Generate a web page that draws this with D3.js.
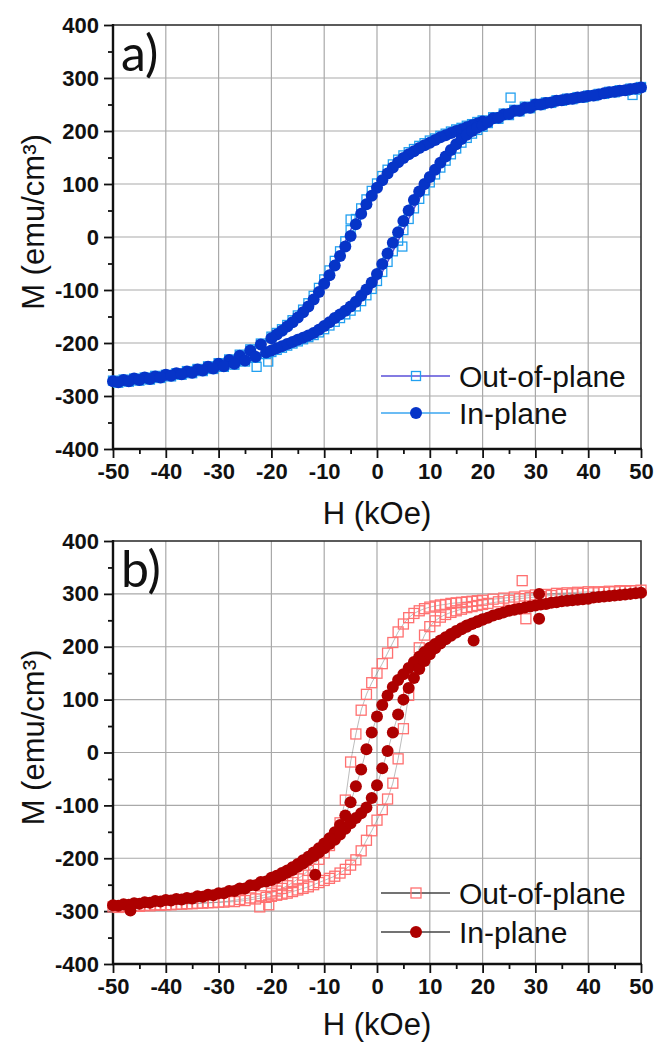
<!DOCTYPE html>
<html>
<head>
<meta charset="utf-8">
<script src="https://cdnjs.cloudflare.com/ajax/libs/d3/7.8.5/d3.min.js"></script>
<style>
body { margin: 0; background: #fff; }
svg text { font-family: "Liberation Sans", Arial, sans-serif; }
</style>
</head>
<body>
<svg id="chart" width="655" height="1042"></svg>
<script>
// field values of the two sweeps (kOe)
var sweepDownH = [50, 48, 46, 44, 42, 40, 38, 36, 34, 32, 30, 28, 26, 24, 22,
  20, 19, 18, 17, 16, 15, 14, 13, 12, 11, 10, 9, 8, 7, 6, 5, 4, 3, 2, 1, 0,
  -1, -2, -3, -4, -5, -6, -7, -8, -9, -10, -11, -12, -13, -14, -15, -16, -17, -18, -19, -20,
  -22, -24, -26, -28, -30, -32, -34, -36, -38, -40, -42, -44, -46, -48, -50];
var sweepUpH = [-49, -47, -45, -43, -41, -39, -37, -35, -33, -31, -29, -27, -25, -23, -21,
  -20, -19, -18, -17, -16, -15, -14, -13, -12, -11, -10, -9, -8, -7, -6, -5, -4, -3, -2, -1,
  0, 1, 2, 3, 4, 5, 6, 7, 8, 9, 10, 11, 12, 13, 14, 15, 16, 17, 18, 19, 20,
  21, 23, 25, 27, 29, 31, 33, 35, 37, 39, 41, 43, 45, 47, 49];

// panel a) magnetisation (emu/cm3)
var aOutDown = [283, 280, 277, 274, 270, 267, 264, 261, 258, 254, 251, 246, 240, 233, 226,
  220, 217, 213, 210, 206, 203, 199, 195, 191, 186, 182, 177, 172, 166, 160, 154, 146, 137, 127, 115, 101,
  87, 71, 54, 34, 13, -8, -27, -45, -63, -80, -96, -111, -125, -137, -148, -157, -166, -174, -181, -188,
  -201, -212, -222, -231, -238, -244, -249, -253, -257, -260, -262, -265, -267, -269, -271];
var aOutUp = [-275, -273, -271, -269, -266, -263, -260, -257, -253, -249, -245, -241, -235, -228, -221,
  -217, -213, -209, -205, -201, -197, -193, -189, -185, -180, -174, -167, -160, -153, -146, -139, -131, -121, -110, -98,
  -83, -66, -47, -27, -7, 13, 34, 54, 72, 88, 103, 118, 131, 144, 156, 167, 178, 187, 195, 202, 208,
  215, 223, 230, 237, 243, 249, 253, 257, 260, 263, 266, 270, 273, 276, 278];
var aOutExtraH = [25.3, -5.0, 4.8, -22.8, -20.6, 48.4];
var aOutExtraM = [263, 33, -18, -245, -235, 268];
var aInDown = [282, 279, 276, 273, 269, 266, 263, 260, 257, 253, 250, 244, 238, 231, 224,
  218, 214, 211, 207, 203, 200, 196, 192, 188, 183, 178, 173, 168, 162, 156, 149, 141, 131, 120, 107, 93,
  78, 62, 44, 24, 2, -18, -36, -54, -72, -88, -104, -118, -131, -142, -152, -161, -169, -177, -184, -191,
  -203, -214, -224, -232, -239, -245, -250, -254, -257, -260, -263, -265, -267, -270, -272];
var aInUp = [-274, -272, -270, -268, -265, -262, -259, -256, -252, -248, -244, -239, -233, -226, -218,
  -214, -210, -206, -202, -198, -194, -190, -186, -181, -175, -168, -161, -153, -146, -139, -131, -122, -111, -99, -86,
  -70, -51, -31, -11, 9, 30, 50, 70, 86, 100, 113, 127, 140, 152, 164, 175, 185, 193, 200, 206, 211,
  217, 225, 232, 238, 244, 250, 254, 258, 261, 264, 267, 271, 274, 277, 280];

// panel b)
var bOutDown = [307, 306, 306, 305, 304, 304, 303, 302, 301, 299, 298, 296, 294, 292, 290,
  288, 287, 286, 285, 284, 283, 282, 280, 279, 277, 275, 272, 268, 263, 255, 243, 228, 208, 188, 168, 150,
  132, 110, 80, 35, -18, -90, -133, -158, -176, -190, -202, -213, -223, -232, -239, -246, -252, -257, -262, -266,
  -271, -275, -278, -281, -283, -284, -285, -286, -287, -288, -288, -289, -290, -291, -292];
var bOutUp = [-293, -292, -291, -290, -289, -288, -287, -286, -285, -284, -283, -282, -280, -277, -274,
  -272, -270, -268, -266, -263, -260, -257, -254, -250, -246, -242, -238, -234, -228, -221, -213, -203, -186, -166, -148,
  -128, -108, -88, -58, -12, 45, 108, 160, 198, 222, 238, 249, 256, 261, 265, 268, 271, 274, 276, 278, 280,
  282, 285, 288, 291, 293, 295, 297, 299, 300, 301, 302, 303, 304, 305, 306];
var bOutExtraH = [27.5, 28.2, -22.2, -20.5];
var bOutExtraM = [325, 253, -292, -288];
var bInDown = [302, 300, 298, 296, 294, 291, 289, 287, 284, 281, 278, 274, 270, 265, 259,
  252, 248, 244, 240, 235, 230, 224, 218, 212, 205, 198, 190, 181, 171, 160, 148, 137, 124, 108, 90, 68,
  38, 6, -32, -64, -94, -119, -137, -151, -162, -172, -181, -189, -197, -204, -211, -217, -223, -228, -233, -237,
  -245, -251, -257, -262, -266, -269, -272, -275, -277, -279, -281, -283, -285, -287, -289];
var bInUp = [-290, -288, -286, -284, -282, -280, -278, -276, -273, -270, -266, -262, -257, -251, -244,
  -241, -237, -232, -227, -222, -216, -210, -203, -196, -189, -181, -173, -165, -155, -144, -134, -124, -115, -104, -86,
  -62, -30, 3, 38, 72, 100, 122, 141, 158, 173, 186, 197, 206, 214, 221, 227, 233, 238, 243, 247, 251,
  255, 262, 268, 272, 276, 280, 283, 286, 288, 290, 293, 295, 297, 299, 301];
var bInExtraH = [18.3, 30.7, 30.7, -11.7, -46.7];
var bInExtraM = [212, 253, 300, -231, -299];

// ticks
var hTicks = [-50, -40, -30, -20, -10, 0, 10, 20, 30, 40, 50];
var hMinor = [-45, -35, -25, -15, -5, 5, 15, 25, 35, 45];
var mTicks = [-400, -300, -200, -100, 0, 100, 200, 300, 400];
var mMinor = [-350, -250, -150, -50, 50, 150, 250, 350];

var svg = d3.select("#chart");

function pairs(hs, ms) {
  return hs.map(function(h, i) { return [h, ms[i]]; });
}

// plain hyphen like the original, not the unicode minus
function plain(d) { return String(d); }

function drawMarks(g, x, y, pts, s) {
  if (s.shape == "square") {
    var h = s.size / 2;
    g.append("g").selectAll("rect").data(pts).enter().append("rect")
      .attr("x", function(d) { return x(d[0]) - h; })
      .attr("y", function(d) { return y(d[1]) - h; })
      .attr("width", s.size).attr("height", s.size)
      .attr("fill", "none").attr("stroke", s.color).attr("stroke-width", 1.3);
  } else {
    g.append("g").selectAll("circle").data(pts).enter().append("circle")
      .attr("cx", function(d) { return x(d[0]); })
      .attr("cy", function(d) { return y(d[1]); })
      .attr("r", s.size / 2).attr("fill", s.color);
  }
}

function drawPanel(p) {
  var left = 113, right = 641;
  var x = d3.scaleLinear().domain([-50, 50]).range([left, right]);
  var y = d3.scaleLinear().domain([-400, 400]).range([p.bottom, p.top]);
  var g = svg.append("g");

  // grid
  g.append("g").selectAll("line").data(hTicks.slice(1, -1)).enter().append("line")
    .attr("x1", function(d) { return x(d); }).attr("x2", function(d) { return x(d); })
    .attr("y1", p.top).attr("y2", p.bottom)
    .attr("stroke", "#a9a9a9").attr("stroke-width", 1.2);
  g.append("g").selectAll("line").data(mTicks.slice(1, -1)).enter().append("line")
    .attr("x1", left).attr("x2", right)
    .attr("y1", function(d) { return y(d); }).attr("y2", function(d) { return y(d); })
    .attr("stroke", "#a9a9a9").attr("stroke-width", 1.2);

  // frame
  g.append("rect").attr("x", left).attr("y", p.top)
    .attr("width", right - left).attr("height", p.bottom - p.top)
    .attr("fill", "none").attr("stroke", "#333").attr("stroke-width", 1.6);

  // axes
  g.append("g").attr("transform", "translate(" + left + ",0)")
    .call(d3.axisLeft(y).tickValues(mTicks).tickFormat(plain).tickSize(9).tickPadding(5));
  g.append("g").attr("transform", "translate(" + left + ",0)")
    .call(d3.axisLeft(y).tickValues(mMinor).tickSize(5).tickFormat(""));
  g.append("g").attr("transform", "translate(0," + p.bottom + ")")
    .call(d3.axisBottom(x).tickValues(hTicks).tickFormat(plain).tickSize(9).tickPadding(5));
  g.append("g").attr("transform", "translate(0," + p.bottom + ")")
    .call(d3.axisBottom(x).tickValues(hMinor).tickSize(5).tickFormat(""));
  g.selectAll(".domain").remove();
  g.selectAll(".tick line").attr("stroke", "#111").attr("stroke-width", 1.8);
  g.selectAll(".tick text").attr("fill", "#111")
    .style("font-size", "22px").style("font-weight", "bold");
  g.append("line").attr("x1", left).attr("x2", left).attr("y1", p.top - 1).attr("y2", p.bottom + 1)
    .attr("stroke", "#111").attr("stroke-width", 2.4);
  g.append("line").attr("x1", left - 1).attr("x2", right + 1).attr("y1", p.bottom).attr("y2", p.bottom)
    .attr("stroke", "#111").attr("stroke-width", 2.4);

  // axis titles
  g.append("text").attr("x", (left + right) / 2).attr("y", p.bottom + p.titleGap)
    .attr("text-anchor", "middle").style("font-size", "31px").attr("fill", "#111")
    .text("H (kOe)");
  g.append("text")
    .attr("transform", "translate(44," + ((p.top + p.bottom) / 2 - 15) + ") rotate(-90)")
    .attr("text-anchor", "middle").style("font-size", "31px").attr("fill", "#111")
    .text("M (emu/cm³)");

  // panel label
  g.append("text").attr("x", 121).attr("y", p.top + 46)
    .style("font-family", "Lato, 'Open Sans', sans-serif").style("font-size", "50px").attr("fill", "#111")
    .text(p.label);

  // data: thin line under symbols, out-of-plane first
  var line = d3.line().x(function(d) { return x(d[0]); }).y(function(d) { return y(d[1]); });
  p.series.forEach(function(s) {
    var pts = pairs(sweepDownH, s.down).concat(pairs(sweepUpH, s.up));
    g.append("path").datum(pts).attr("d", line)
      .attr("fill", "none").attr("stroke", s.lineColor)
      .attr("stroke-width", p.dataLineWidth).attr("stroke-opacity", p.dataLineOpacity);
    drawMarks(g, x, y, pts.concat(pairs(s.extraH, s.extraM)), s);
  });

  // legend
  p.series.forEach(function(s, i) {
    var ly = p.bottom + p.legendY[i];
    g.append("line").attr("x1", 381).attr("x2", 450).attr("y1", ly).attr("y2", ly)
      .attr("stroke", s.lineColor).attr("stroke-width", 1.6);
    drawMarks(g, function(v) { return v; }, function(v) { return v; }, [[416, ly]], s);
    g.append("text").attr("x", 459).attr("y", ly + 10.5)
      .style("font-size", "30px").attr("fill", "#111").text(s.name);
  });
}

drawPanel({
  top: 25, bottom: 449, label: "a)", legendY: [-73, -36], titleGap: 75,
  dataLineWidth: 1.5, dataLineOpacity: 1,
  series: [
    {name: "Out-of-plane", down: aOutDown, up: aOutUp, extraH: aOutExtraH, extraM: aOutExtraM,
      shape: "square", size: 9, color: "#22a0f0", lineColor: "#5a4fd8"},
    {name: "In-plane", down: aInDown, up: aInUp, extraH: [], extraM: [],
      shape: "circle", size: 12, color: "#0634c8", lineColor: "#3aa6f0"}
  ]
});

drawPanel({
  top: 541, bottom: 964, label: "b)", legendY: [-71, -32], titleGap: 71,
  dataLineWidth: 0.6, dataLineOpacity: 0.6,
  series: [
    {name: "Out-of-plane", down: bOutDown, up: bOutUp, extraH: bOutExtraH, extraM: bOutExtraM,
      shape: "square", size: 10, color: "#ff7070", lineColor: "#444"},
    {name: "In-plane", down: bInDown, up: bInUp, extraH: bInExtraH, extraM: bInExtraM,
      shape: "circle", size: 12, color: "#ad0000", lineColor: "#444"}
  ]
});
</script>
</body>
</html>
